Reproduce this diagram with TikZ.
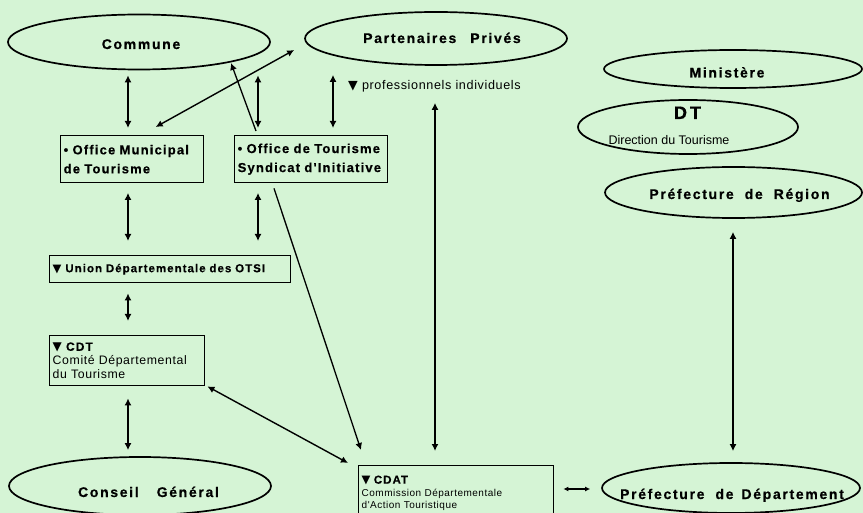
\documentclass[tikz,border=0pt]{standalone}
\usepackage{fontspec}
\setmainfont{Liberation Sans}
\newfontfamily\widefont[LetterSpace=12, BoldFeatures={FakeBold=0.5}]{Liberation Sans}
\newfontfamily\boxfont[LetterSpace=9, BoldFeatures={FakeBold=0.4}]{Liberation Sans}
\newfontfamily\smallfont[LetterSpace=5]{Liberation Sans}
\newfontfamily\symfont{DejaVu Sans}
\usetikzlibrary{shapes.geometric,arrows.meta}
\definecolor{paper}{RGB}{213,244,213}
\newcommand{\dtri}{{\symfont\char"25BC}}

\begin{document}
\begin{tikzpicture}[x=1pt,y=-1pt,
  oval/.style={draw, line width=1.7pt, ellipse, inner sep=0pt},
  ovaltext/.style={inner sep=0pt, text height=10pt, text depth=0pt,
    font=\widefont\bfseries\fontsize{14}{16}\selectfont},
  orgbox/.style={draw, line width=1.4pt, rectangle, anchor=north west,
    inner sep=3pt, align=left},
  headtext/.style={font=\boxfont\bfseries\fontsize{13}{19}\selectfont},
  link/.style={line width=1.4pt, {Latex[length=7pt,width=7pt]}-{Latex[length=7pt,width=7pt]}},
  oneway/.style={line width=1.3pt, -{Latex[length=7pt,width=7pt]}},
]
% page and paper colour
\fill[paper] (0,0) rectangle (863,513);
\useasboundingbox (0,0) rectangle (863,513);
\clip (0,0) rectangle (863,513);

% ---- ovals ----
\node[oval, minimum width=262pt, minimum height=55pt] (commune) at (139,42) {};
\node[ovaltext] (communetxt) at (141,44) {Commune};

\node[oval, minimum width=262pt, minimum height=53pt] (partenaires) at (436,38.5) {};
\node[ovaltext] (partenairestxt) at (442,38) {Partenaires\hspace{14pt}Privés};

\node[oval, minimum width=258pt, minimum height=38pt] (ministere) at (733,69) {};
\node[ovaltext] (ministeretxt) at (727,72.5) {Ministère};

\node[oval, minimum width=220pt, minimum height=54pt] (dt) at (688,127) {};
\node[ovaltext, font=\widefont\bfseries\fontsize{18}{20}\selectfont] (dttxt) at (687.5,114) {D\hspace{3pt}T};
\node[inner sep=0pt, text height=9pt, text depth=0pt,
  font=\fontsize{12.5}{14}\selectfont] (dtsub) at (669,140) {Direction du Tourisme};

\node[oval, minimum width=257pt, minimum height=51pt] (region) at (733.5,192.5) {};
\node[ovaltext] (regiontxt) at (739.5,194) {Préfecture\hspace{11pt}de\hspace{11pt}Région};

\node[oval, minimum width=262pt, minimum height=58pt] (conseil) at (140,486) {};
\node[ovaltext] (conseiltxt) at (148.5,492) {Conseil\hspace{18pt}Général};

\node[oval, minimum width=258pt, minimum height=50pt] (prefdep) at (731,488) {};
\node[ovaltext] (prefdeptxt) at (732,494) {Préfecture\hspace{11pt}de\hspace{8pt}Département};

% ---- boxes ----
\node[orgbox, headtext, text width=137pt, minimum height=47pt] (omt) at (60,135)
  {• Office Municipal\\de Tourisme};
\node[orgbox, headtext, text width=147pt, minimum height=47pt] (otsi) at (234,135)
  {• Office de Tourisme\\Syndicat d'Initiative};
\node[orgbox, text width=235pt, minimum height=27pt,
  font=\boxfont\bfseries\fontsize{11.5}{13}\selectfont] (union) at (49,255)
  {\dtri\ Union Départementale des OTSI};
\node[orgbox, text width=149pt, minimum height=50pt,
  font=\smallfont\fontsize{12.3}{14}\selectfont] (cdt) at (49,335)
  {{\boxfont\bfseries\fontsize{12}{14}\selectfont\dtri\ CDT}\\Comité Départemental\\du Tourisme};
\node[orgbox, text width=189pt, minimum height=55pt,
  font=\smallfont\fontsize{10}{12.5}\selectfont] (cdat) at (358,465)
  {{\boxfont\bfseries\fontsize{11.5}{12.5}\selectfont\dtri\ CDAT}\\Commission Départementale\\d'Action Touristique\\[3pt]};

% ---- side label ----
\node[anchor=west, inner sep=0pt, font=\smallfont\fontsize{12.6}{13}\selectfont] (pros) at (348,86)
  {\dtri\ professionnels individuels};

% ---- connectors ----
\draw[link, shorten <=7pt, shorten >=5pt] (omt.north -| 128,0) -- (commune.south -| 128,0);
\draw[link, shorten <=9.5pt, shorten >=14pt] (omt.south -| 128,0) -- (union.north -| 128,0);
\draw[link, shorten <=7pt, shorten >=5pt] (otsi.north -| 258,0) -- (commune.south -| 258,0);
\draw[link, shorten <=9.5pt, shorten >=14pt] (otsi.south -| 258,0) -- (union.north -| 258,0);
\draw[link, shorten <=7pt, shorten >=9pt] (otsi.north -| 333,0) -- (partenaires.south -| 333,0);
\draw[link, shorten <=37pt, shorten >=14pt] (partenaires.south -| 435,0) -- (cdat.north -| 435,0);
\draw[link] ([shift={(23.5,-8)}]omt.north) -- ([shift={(-10,11.5)}]partenaires.west);
\draw[oneway] ([shift={(22,-4)}]otsi.north west) -- ([shift={(92,21)}]commune.center);
\draw[oneway] ([shift={(40,5)}]otsi.south west) -- ([shift={(3,-15)}]cdat.north west);
\draw[link] ([shift={(2,0)}]cdt.south east) -- ([shift={(-10,-2)}]cdat.north west);
\draw[link, shorten <=10pt, shorten >=14pt] (union.south -| 128,0) -- (cdt.north -| 128,0);
\draw[link, shorten <=12pt, shorten >=6pt] (cdt.south -| 128,0) -- (conseil.north -| 128,0);
\draw[link, shorten <=13pt, shorten >=11pt] (region.south -| 733,0) -- (prefdep.north -| 733,0);
\draw[line width=1.2pt, {Latex[length=5pt,width=5pt]}-{Latex[length=5pt,width=5pt]},
  shorten <=9pt, shorten >=11pt] (cdat.east |- 0,489) -- (prefdep.west |- 0,489);
\end{tikzpicture}
\end{document}
